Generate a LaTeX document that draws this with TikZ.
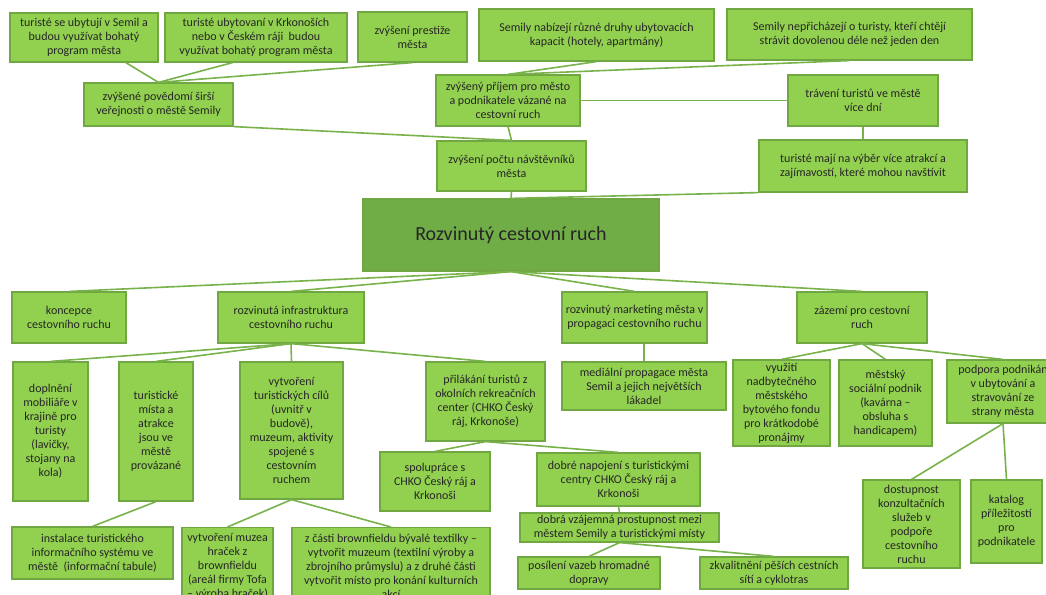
\documentclass[tikz,border=0pt]{standalone}
\usepackage{fontspec}
\setmainfont{Carlito}
\definecolor{boxfill}{HTML}{92D050}
\definecolor{boxdraw}{HTML}{71A743}
\definecolor{corefill}{HTML}{70AD47}
\definecolor{linkcol}{HTML}{78B24B}
\tikzset{
  box/.style={draw=boxdraw,fill=boxfill,line width=1.2pt,align=center,inner sep=0pt,
    text=black!85,font=\fontsize{12}{14}\selectfont},
  core/.style={box,fill=corefill,draw=boxdraw,font=\fontsize{20}{24}\selectfont},
  link/.style={draw=linkcol,line width=1.6pt}
}

\begin{document}
\begin{tikzpicture}[x=1pt,y=-1pt]
\useasboundingbox (0,0) rectangle (1046,594);
\clip (0,0) rectangle (1046,594);

% top rows
\node[box,minimum width=148,minimum height=49] (ubytSemil) at (84,37.5) {turisté se ubytují v Semil a\\budou využívat bohatý\\program města};
\node[box,minimum width=182,minimum height=49] (ubytKrk) at (256,37.5) {turisté ubytovaní v Krkonoších\\nebo v Českém ráji \ budou\\využívat bohatý program města};
\node[box,minimum width=109,minimum height=50] (prestiz) at (412.5,37) {zvýšení prestiže\\města};
\node[box,minimum width=235,minimum height=52] (kapacity) at (596.5,35) {Semily nabízejí různé druhy ubytovacích\\kapacit (hotely, apartmány)};
\node[box,minimum width=245,minimum height=51] (neprich) at (849.5,34.5) {Semily nepřicházejí o turisty, kteří chtějí\\strávit dovolenou déle než jeden den};

\node[box,minimum width=149,minimum height=43] (povedomi) at (158.5,104.5) {zvýšené povědomí širší\\veřejnosti o městě Semily};
\node[box,minimum width=144,minimum height=51] (prijem) at (508,100.5) {zvýšený příjem pro město\\a podnikatele vázané na\\cestovní ruch};
\node[box,minimum width=150,minimum height=51] (traveni) at (863,100.5) {trávení turistů ve městě\\více dní};

\node[box,minimum width=149,minimum height=50] (pocet) at (511.5,166) {zvýšení počtu návštěvníků\\města};
\node[box,minimum width=208,minimum height=52] (atrakce) at (863,166) {turisté mají na výběr více atrakcí a\\zajímavostí, které mohou navštívit};

\node[core,minimum width=296,minimum height=72] (ruch) at (511,235) {Rozvinutý cestovní ruch};

% first level
\node[box,minimum width=114,minimum height=51] (koncepce) at (69,317.5) {koncepce\\cestovního ruchu};
\node[box,minimum width=146,minimum height=51] (infra) at (291,317.5) {rozvinutá infrastruktura\\cestovního ruchu};
\node[box,minimum width=145,minimum height=51] (marketing) at (634.5,317.5) {rozvinutý marketing města v\\propagaci cestovního ruchu};
\node[box,minimum width=130,minimum height=51] (zazemi) at (862,317.5) {zázemí pro cestovní\\ruch};

% second level
\node[box,minimum width=75,minimum height=139] (mobiliar) at (50.5,431.5) {doplnění\\mobiliáře v\\krajině pro\\turisty\\(lavičky,\\stojany na\\kola)};
\node[box,minimum width=74,minimum height=139] (mista) at (156,431.5) {turistické\\místa a\\atrakce\\jsou ve\\městě\\provázané};
\node[box,minimum width=103,minimum height=137] (cile) at (291.5,430.5) {vytvoření\\turistických cílů\\(uvnitř v\\budově),\\muzeum, aktivity\\spojené s\\cestovním\\ruchem};
\node[box,minimum width=119,minimum height=79] (prilakani) at (485.5,401.5) {přilákání turistů z\\okolních rekreačních\\center (CHKO Český\\ráj, Krkonoše)};
\node[box,minimum width=164,minimum height=48] (media) at (644,386) {mediální propagace města\\Semil a jejich největších\\lákadel};
\node[box,minimum width=97,minimum height=86] (byty) at (781.5,403) {využití\\nadbytečného\\městského\\bytového fondu\\pro krátkodobé\\pronájmy};
\node[box,minimum width=93,minimum height=86] (podnik) at (885.5,403) {městský\\sociální podnik\\(kavárna –\\obsluha s\\handicapem)};
\node[box,minimum width=112,minimum height=63] (podpora) at (1003,391.5) {podpora podnikán\\v ubytování a\\stravování ze\\strany města};

% third level
\node[box,minimum width=110,minimum height=59] (spoluprace) at (435,481.5) {spolupráce s\\CHKO Český ráj a\\Krkonoši};
\node[box,minimum width=163,minimum height=53] (napojeni) at (618.5,479.5) {dobré napojení s turistickými\\centry CHKO Český ráj a\\Krkonoši};
\node[box,minimum width=199,minimum height=29] (prostup) at (619.5,527.5) {dobrá vzájemná prostupnost mezi\\městem Semily a turistickými místy};
\node[box,minimum width=142,minimum height=32] (doprava) at (589,573) {posílení vazeb hromadné\\dopravy};
\node[box,minimum width=148,minimum height=32] (site) at (774,573) {zkvalitnění pěších cestních\\sítí a cyklotras};
\node[box,minimum width=97,minimum height=88] (konzult) at (911.5,524) {dostupnost\\konzultačních\\služeb v\\podpoře\\cestovního\\ruchu};
\node[box,minimum width=71,minimum height=83] (katalog) at (1006.5,521.5) {katalog\\příležitostí\\pro\\podnikatele};
\node[box,minimum width=161,minimum height=52] (instalace) at (92.5,553) {instalace turistického\\informačního systému ve\\městě \ (informační tabule)};
\node[box,minimum width=91,minimum height=78,anchor=north] (hracky) at (227.5,527) {vytvoření muzea\\hraček z\\brownfieldu\\(areál firmy Tofa\\– výroba hraček)};
\node[box,minimum width=198,minimum height=78,anchor=north] (textilka) at (391,527) {z části brownfieldu bývalé textilky –\\vytvořit muzeum (textilní výroby a\\zbrojního průmyslu) a z druhé části\\vytvořit místo pro konání kulturních\\akcí};

% connectors
\draw[link] (ubytSemil.-31) -- (povedomi.north);
\draw[link] (ubytKrk.-133) -- (povedomi.north);
\draw[link] (prestiz.south) -- (povedomi.north);
\draw[link] (kapacity.south) -- (prijem.north);
\draw[link] (neprich.south) -- (prijem.north);
\draw[link] (prijem.east) -- (traveni.west);
\draw[link] (prijem.south) -- (pocet.north);
\draw[link] (povedomi.south east) -- (pocet.north);
\draw[link] (traveni.south) -- (atrakce.north);
\draw[link] (atrakce.south west) -- (ruch.north);
\draw[link] (pocet.south) -- (ruch.north);

\foreach \n in {koncepce,infra,marketing,zazemi}
  \draw[link] (ruch.south) -- (\n.north);
\foreach \n in {mobiliar,mista,cile,prilakani}
  \draw[link] (infra.south) -- (\n.north);
\draw[link] (marketing.south -| media.north) -- (media.north);
\foreach \n in {byty,podnik,podpora}
  \draw[link] (zazemi.south) -- (\n.north);
\foreach \n in {spoluprace,napojeni}
  \draw[link] (prilakani.south) -- (\n.north);
\draw[link] (napojeni.south) -- (prostup.north);
\foreach \n in {doprava,site}
  \draw[link] (prostup.south) -- (\n.north);
\foreach \n in {konzult,katalog}
  \draw[link] (podpora.south) -- (\n.north);
\draw[link] (mista.south) -- (instalace.north);
\foreach \n in {hracky,textilka}
  \draw[link] (cile.south) -- (\n.north);

\end{tikzpicture}
\end{document}
